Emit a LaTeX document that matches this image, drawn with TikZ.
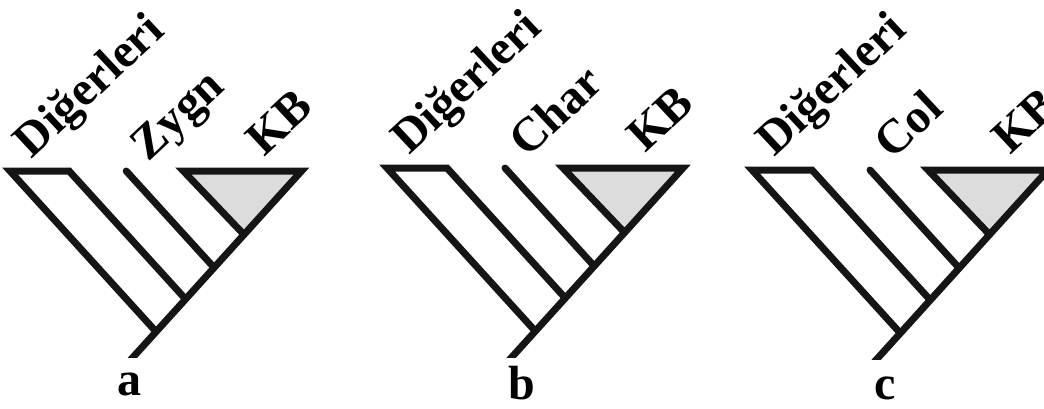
\documentclass[tikz,border=0pt]{standalone}
\usepackage{fontspec}
\setmainfont{Liberation Serif}
\definecolor{linecol}{HTML}{151515}
\definecolor{kbfill}{HTML}{DCDCDC}
\newcommand\cladepanel[8]{%
  \begin{scope}[shift={(#2,#3)},scale=#4]
    \coordinate (#1TL) at (0,0);
    \coordinate (#1DR) at (60,0);
    \coordinate (#1MT) at (118,0);
    \coordinate (#1KL) at (176,0);
    \coordinate (#1KR) at (296,0);
    \coordinate (#1L1) at (148,162.8);
    \coordinate (#1D2) at (178,129.8);
    \coordinate (#1M2) at (207,97.9);
    \coordinate (#1KV) at (237,64);
    \coordinate (#1RX) at (112,203.3);
    \fill[kbfill] (#1KL) -- (#1KR) -- (#1KV) -- cycle;
    \begin{scope}
      \clip (-20,-20) rectangle (330,189);
      \draw[branch] (#1RX) -- (#1KR) -- (#1KL) -- (#1KV);
    \end{scope}
    \draw[branch] (#1L1) -- (#1TL) -- (#1DR) -- (#1D2);
    \draw[branch] (#1MT) -- (#1M2);
    \node[lab] (#1n1) at (22,-12) {Diğerleri};
    \node[lab] (#1n2) at (140,-9) {#5};
    \node[lab] (#1n3) at (258,-14) {KB};
  \end{scope}
  \node[panellab] (#1let) at (#7,#8) {#6};
}
\begin{document}
\begin{tikzpicture}[x=1pt,y=-1pt,
  branch/.style={draw=linecol,line width=7pt,line join=miter,line cap=round},
  lab/.style={font=\fontsize{48}{48}\selectfont\bfseries,text=black,anchor=base west,inner sep=0pt,rotate=43},
  panellab/.style={font=\fontsize{48}{48}\selectfont\bfseries,text=black,anchor=base,inner sep=0pt}]
\useasboundingbox (0,0) rectangle (1044,408);
\clip (0,0) rectangle (1044,408);
\cladepanel{a}{10}{171}{0.985}{Zygn}{a}{129}{395}
\cladepanel{b}{387}{168}{1}{Char}{b}{522}{399}
\cladepanel{c}{752}{170}{1}{Col}{c}{885}{399}
\end{tikzpicture}
\end{document}
